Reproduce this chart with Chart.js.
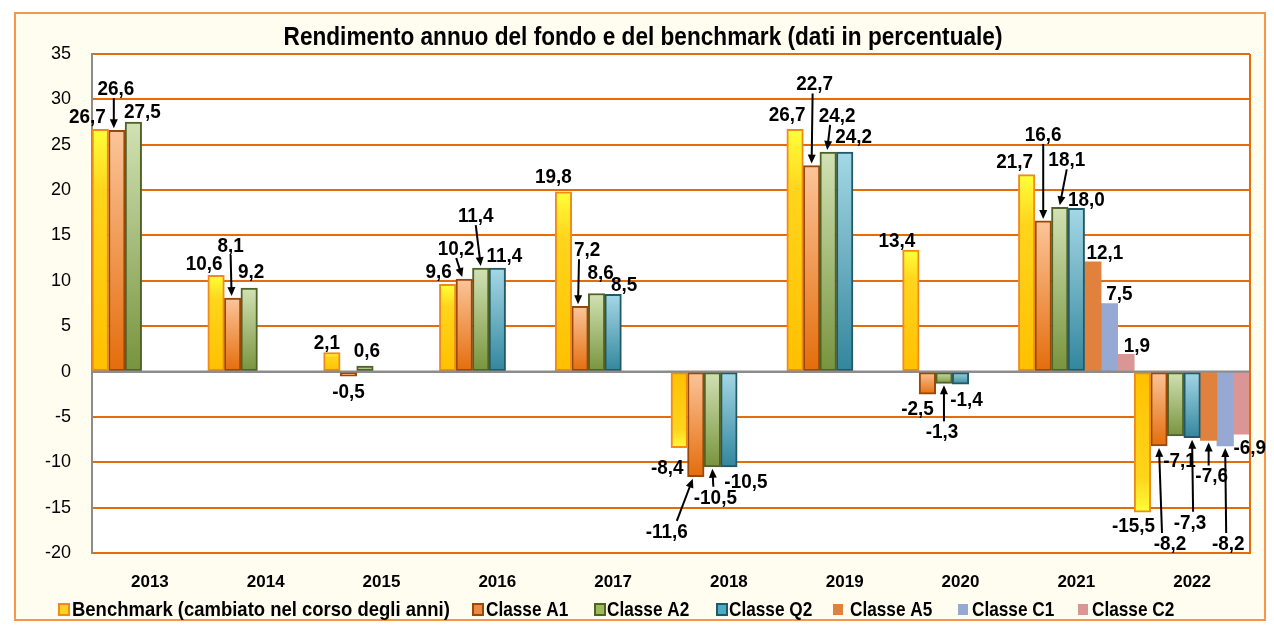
<!DOCTYPE html>
<html>
<head>
<meta charset="utf-8">
<script src="https://cdn.jsdelivr.net/npm/chart.js@4.4.1/dist/chart.umd.min.js"></script>
<style>
    body { margin: 0; background: #ffffff; }
    #chart { display: block; }
</style>
</head>
<body>
<canvas id="chart" width="1274" height="633"></canvas>
<script>
const years = ['2013', '2014', '2015', '2016', '2017', '2018', '2019', '2020', '2021', '2022'];
const benchmark = [26.7, 10.6, 2.1, 9.6, 19.8, -8.4, 26.7, 13.4, 21.7, -15.5];
const classeA1 = [26.6, 8.1, -0.5, 10.2, 7.2, -11.6, 22.7, -2.5, 16.6, -8.2];
const classeA2 = [27.5, 9.2, 0.6, 11.4, 8.6, -10.5, 24.2, -1.3, 18.1, -7.1];
const classeQ2 = [null, null, null, 11.4, 8.5, -10.5, 24.2, -1.4, 18.0, -7.3];
const classeA5 = [null, null, null, null, null, null, null, null, 12.1, -7.6];
const classeC1 = [null, null, null, null, null, null, null, null, 7.5, -8.2];
const classeC2 = [null, null, null, null, null, null, null, null, 1.9, -6.9];
const seriesNames = ['Benchmark (cambiato nel corso degli anni)', 'Classe A1', 'Classe A2', 'Classe Q2', 'Classe A5', 'Classe C1', 'Classe C2'];
const yMin = -20, yMax = 35, yStep = 5;

const FONT = '"Liberation Sans", Arial, sans-serif';
const ORANGE = '#e46c0a';

// label placement per series and year: [dx, dy, arrow, arrowStartDx, arrowEndDx]
const labelPos = [
    [[-13, -13], [-12, -12], [-5, -10], [-9, -13], [-10, -16], [-12, 19], [-8, -15], [-14, -10], [-12, -13], [-9, 13]],
    [[-1, -42, 1, -2, -3], [-2, -53, 1, 0, -1], [0, 15], [-8, -31, 1, 0, -2], [7, -57, 1, -8, -2], [-29, 54, 1, 10, -3], [3, -82, 1, -2, 0], [-10, 14], [0, -87, 1, 0, 0], [11, 97, 1, -8, 0]],
    [[9, -11], [2, -17], [2, -16], [-5, -53, 1, 0, 0], [4, -21], [3, 30, 1, -2, 0], [9, -37, 1, -7, -1], [-2, 48, 1, 2, 0], [7, -48, 1, 0, 0], [4, 24]],
    [null, null, null, [7, -13], [11, -10], [17, 14], [9, -16], [6, 15], [10, -9], [-2, 84, 1, 3, 0]],
    [null, null, null, null, null, null, null, null, [12, -10], [3, 35, 1, -3, 0]],
    [null, null, null, null, null, null, null, null, [10, -10], [3, 97, 1, -2, 0]],
    [null, null, null, null, null, null, null, null, [11, -9], [8, 13]]
];
// legend box left edges and gap to the text
const legendBoxX = [59, 473, 595, 717, 833, 958, 1078];
const legendTextGap = [13, 13, 12, 12, 17, 14, 14];

function barFill(stops, flipNegative) {
    return function (ctx) {
        const chart = ctx.chart;
        const solid = stops[stops.length - 1][1];
        if (ctx.type !== 'data' || !chart.chartArea || !chart.scales.y) return solid;
        const v = ctx.raw;
        if (v === null || v === undefined) return solid;
        const p0 = chart.scales.y.getPixelForValue(0);
        const p1 = chart.scales.y.getPixelForValue(v);
        if (!isFinite(p0) || !isFinite(p1)) return solid;
        const top = Math.min(p0, p1);
        const bottom = Math.max(p0, p1) + 1;
        const g = (flipNegative && v < 0)
            ? chart.ctx.createLinearGradient(0, bottom, 0, top)
            : chart.ctx.createLinearGradient(0, top, 0, bottom);
        stops.forEach(s => g.addColorStop(s[0], s[1]));
        return g;
    };
}

const seriesStyle = [
    {fill: barFill([[0, '#ffff3a'], [0.25, '#ffd51c'], [1, '#ffc000']], true), border: '#f08a1c', width: 2, legend: '#ffd21a'},
    {fill: barFill([[0, '#fbc59a'], [1, '#e46c0a']]), border: '#984807', width: 2, legend: '#eb8a45'},
    {fill: barFill([[0, '#d2e2b4'], [1, '#77933c']]), border: '#4f6228', width: 2, legend: '#9bbb59'},
    {fill: barFill([[0, '#a5d8e6'], [1, '#31859c']]), border: '#215968', width: 2, legend: '#4bacc6'},
    {fill: '#e0823d', border: '#e0823d', width: 0, legend: '#e0823d'},
    {fill: '#95a9d3', border: '#95a9d3', width: 0, legend: '#95a9d3'},
    {fill: '#d99694', border: '#d99694', width: 0, legend: '#d99694'}
];

function formatValue(v) {
    return v.toFixed(1).replace('.', ',');
}

// condensed lettering: squeeze Liberation Sans horizontally
function narrowText(c, text, x, y, squeeze, align) {
    c.save();
    c.translate(x, y);
    c.scale(squeeze, 1);
    c.textAlign = align || 'center';
    c.fillText(text, 0, 0);
    c.restore();
}

const backgroundPlugin = {
    id: 'background',
    beforeDraw(chart) {
        const c = chart.ctx;
        const a = chart.chartArea;
        c.save();
        c.fillStyle = '#ffffff';
        c.fillRect(0, 0, chart.width, chart.height);
        c.fillStyle = '#fffdf0';
        c.fillRect(15, 13, 1250, 607);
        c.strokeStyle = '#f79646';
        c.lineWidth = 2;
        c.strokeRect(15, 13, 1250, 607);
        c.fillStyle = '#ffffff';
        c.fillRect(a.left, a.top, a.right - a.left, a.bottom - a.top);
        c.fillStyle = '#000000';
        c.font = 'bold 26px ' + FONT;
        c.textBaseline = 'middle';
        narrowText(c, 'Rendimento annuo del fondo e del benchmark (dati in percentuale)', 643, 38, 0.87);
        c.restore();
    }
};

// legend drawn by hand so it can use the narrow lettering
const legendPlugin = {
    id: 'narrowLegend',
    afterDraw(chart) {
        const c = chart.ctx;
        const y = 609;
        c.save();
        c.font = 'bold 21px ' + FONT;
        c.textBaseline = 'middle';
        seriesNames.forEach(function (name, i) {
            const st = seriesStyle[i];
            const x = legendBoxX[i];
            c.fillStyle = st.legend;
            c.fillRect(x, y - 5, 10, 11);
            if (i < 4) {
                c.strokeStyle = st.border;
                c.lineWidth = 2;
                c.strokeRect(x, y - 5, 10, 11);
            }
            c.fillStyle = '#000000';
            const squeeze = i === 0 ? 0.88 : 0.82;
            narrowText(c, name, x + legendTextGap[i], y + 1, squeeze, 'left');
        });
        c.restore();
    }
};

function drawArrow(c, x1, y1, x2, y2) {
    const ang = Math.atan2(y2 - y1, x2 - x1);
    const head = 9;
    c.beginPath();
    c.moveTo(x1, y1);
    c.lineTo(x2 - Math.cos(ang) * head * 0.8, y2 - Math.sin(ang) * head * 0.8);
    c.stroke();
    c.beginPath();
    c.moveTo(x2, y2);
    c.lineTo(x2 - Math.cos(ang) * head + Math.sin(ang) * 4, y2 - Math.sin(ang) * head - Math.cos(ang) * 4);
    c.lineTo(x2 - Math.cos(ang) * head - Math.sin(ang) * 4, y2 - Math.sin(ang) * head + Math.cos(ang) * 4);
    c.closePath();
    c.fill();
}

const labelPlugin = {
    id: 'valueLabels',
    afterDatasetsDraw(chart) {
        const c = chart.ctx;
        const a = chart.chartArea;
        const y0 = chart.scales.y.getPixelForValue(0);
        c.save();
        // zero line on top of the bars
        c.strokeStyle = '#8c8c8c';
        c.lineWidth = 2;
        c.beginPath();
        c.moveTo(a.left, y0);
        c.lineTo(a.right, y0);
        c.stroke();
        // right border of the plot
        c.strokeStyle = ORANGE;
        c.beginPath();
        c.moveTo(a.right, a.top);
        c.lineTo(a.right, a.bottom);
        c.stroke();

        c.font = 'bold 21px ' + FONT;
        c.textBaseline = 'middle';
        c.fillStyle = '#000000';
        c.strokeStyle = '#000000';
        c.lineWidth = 2;
        chart.data.datasets.forEach(function (ds, di) {
            const meta = chart.getDatasetMeta(di);
            ds.data.forEach(function (v, i) {
                if (v === null) return;
                const bar = meta.data[i];
                const pos = labelPos[di][i] || [0, v >= 0 ? -12 : 12];
                const lx = bar.x + pos[0];
                const ly = bar.y + pos[1];
                narrowText(c, formatValue(v), lx, ly + 1, 0.9);
                if (pos[2]) {
                    const dir = v >= 0 ? 1 : -1;
                    drawArrow(c, lx + (pos[3] || 0), ly + dir * 10, bar.x + (pos[4] || 0), bar.y - dir * 2);
                }
            });
        });
        c.restore();
    }
};

function makeDataset(values, index) {
    const st = seriesStyle[index];
    return {
        label: seriesNames[index],
        data: values,
        backgroundColor: st.fill,
        borderColor: st.border,
        borderWidth: st.width,
        borderSkipped: false,
        categoryPercentage: 1.0,
        barPercentage: 1.0
    };
}

new Chart(document.getElementById('chart'), {
    type: 'bar',
    data: {
        labels: years,
        datasets: [benchmark, classeA1, classeA2, classeQ2, classeA5, classeC1, classeC2].map(makeDataset)
    },
    options: {
        responsive: false,
        animation: false,
        devicePixelRatio: 1,
        layout: {
            padding: {top: 54, left: 15, right: 24, bottom: 36}
        },
        scales: {
            x: {
                grid: {display: false, drawTicks: false},
                border: {display: true, color: ORANGE, width: 2},
                ticks: {
                    padding: 19,
                    color: '#000000',
                    font: {family: FONT, size: 17, weight: 'bold'}
                },
                afterFit: function (scale) { scale.height = 44; }
            },
            y: {
                min: yMin,
                max: yMax,
                grid: {
                    drawTicks: false,
                    lineWidth: 2,
                    color: ctx => ctx.tick && ctx.tick.value === 0 ? '#8c8c8c' : ORANGE
                },
                border: {display: true, color: '#8c8c8c', width: 2},
                ticks: {
                    stepSize: yStep,
                    padding: 21,
                    color: '#000000',
                    font: {family: FONT, size: 18},
                    callback: v => String(v)
                },
                afterFit: function (scale) { scale.width = 77; }
            }
        },
        plugins: {
            title: {display: false},
            tooltip: {enabled: false},
            legend: {display: false}
        }
    },
    plugins: [backgroundPlugin, labelPlugin, legendPlugin]
});
</script>
</body>
</html>
